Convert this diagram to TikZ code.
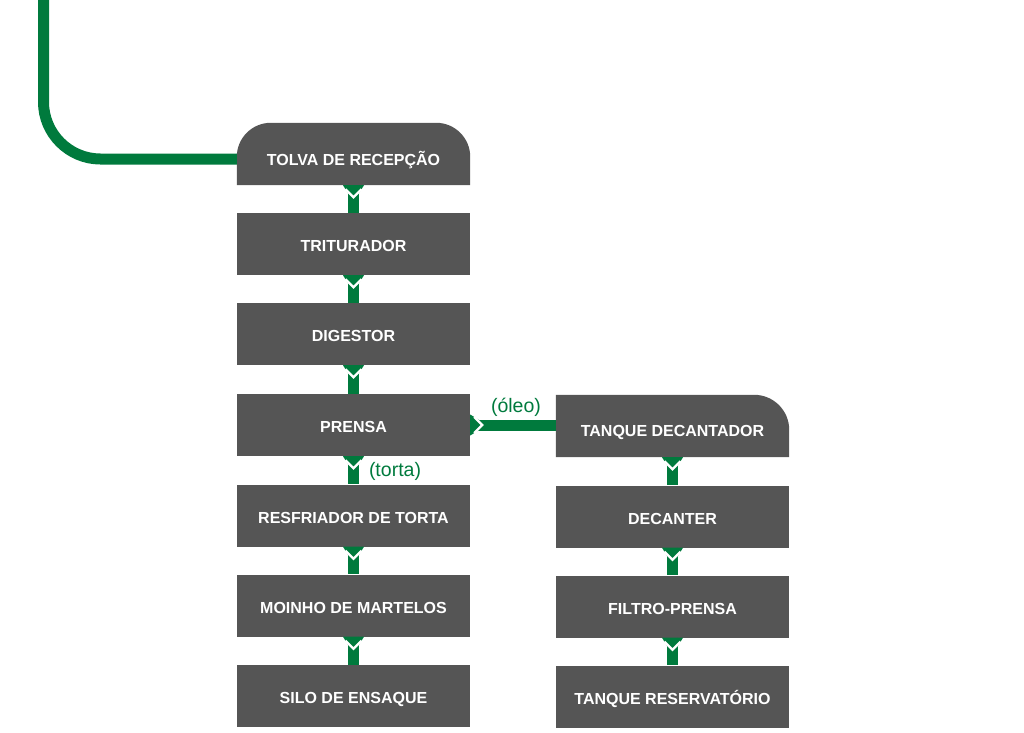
\documentclass[tikz,border=0pt]{standalone}
\usepackage{fontspec}
\setmainfont{Liberation Sans}
\usetikzlibrary{backgrounds}
\definecolor{boxgray}{RGB}{85,85,85}
\definecolor{flowgreen}{RGB}{0,122,61}
\tikzset{
  stepbox/.style={rectangle, minimum width=233pt, minimum height=62pt, inner sep=0pt,
    text=white, font=\bfseries\fontsize{16}{19}\selectfont, text height=15.5pt, text depth=0pt},
  plainbox/.style={stepbox, fill=boxgray},
  flow/.style={draw=flowgreen, line width=11pt},
  flowlabel/.style={text=flowgreen, font=\fontsize{19.5}{23}\selectfont, inner sep=0pt},
  chev/.pic={
    \fill[flowgreen] (-10.5,0) -- (10.5,0) -- (0,-17) -- cycle;
    \draw[white, line width=2.2pt] (-8,-4) -- (0,-12) -- (8,-4);
  }
}
\begin{document}
\begin{tikzpicture}[x=1pt, y=1pt]
\useasboundingbox (0,0) rectangle (1024,-732);
% left column
\node[stepbox] (tolva) at (353.5,-154) {\raisebox{-3.5pt}{TOLVA DE RECEPÇÃO}};
\node[plainbox] (trit) at (353.5,-244) {TRITURADOR};
\node[plainbox] (dig) at (353.5,-334) {DIGESTOR};
\node[plainbox] (prensa) at (353.5,-425) {PRENSA};
\node[plainbox] (resf) at (353.5,-515.5) {RESFRIADOR DE TORTA};
\node[plainbox] (moinho) at (353.5,-605.5) {MOINHO DE MARTELOS};
\node[plainbox] (silo) at (353.5,-696) {SILO DE ENSAQUE};
% right column
\node[stepbox] (decant) at (672.5,-426) {\raisebox{-3pt}{TANQUE DECANTADOR}};
\node[plainbox] (decanter) at (672.5,-516.5) {DECANTER};
\node[plainbox] (filtro) at (672.5,-606.5) {FILTRO-PRENSA};
\node[plainbox] (reserv) at (672.5,-696.5) {TANQUE RESERVATÓRIO};
% rounded boxes
\begin{scope}[on background layer]
  \fill[boxgray] (tolva.south west) -- ([yshift=-34pt]tolva.north west)
    arc[start angle=180, end angle=90, radius=34pt] -- ([xshift=-34pt]tolva.north east)
    arc[start angle=90, end angle=0, radius=34pt] -- (tolva.south east) -- cycle;
  \fill[boxgray] (decant.south west) -- (decant.north west) -- ([xshift=-35pt]decant.north east)
    arc[start angle=90, end angle=0, radius=35pt] -- (decant.south east) -- cycle;
\end{scope}
% feed line
\coordinate (feed) at (43.5,0);
\draw[flow, rounded corners=57pt] (feed) |- ([yshift=-5pt]tolva.west);
% vertical connectors
\foreach \a/\b in {tolva/trit, trit/dig, dig/prensa, prensa/resf, resf/moinho, moinho/silo,
                   decant/decanter, decanter/filtro, filtro/reserv}{
  \draw[flow] (\a.south) -- (\b.north);
  \pic at (\a.south) {chev};
}
% horizontal connector
\draw[flow] (prensa.east) -- (decant.west |- prensa.east);
\pic[rotate=90] at (prensa.east) {chev};
% labels
\node[flowlabel] (oleo) at (516,-407) {(óleo)};
\node[flowlabel] (torta) at (395,-471) {(torta)};
\end{tikzpicture}
\end{document}
